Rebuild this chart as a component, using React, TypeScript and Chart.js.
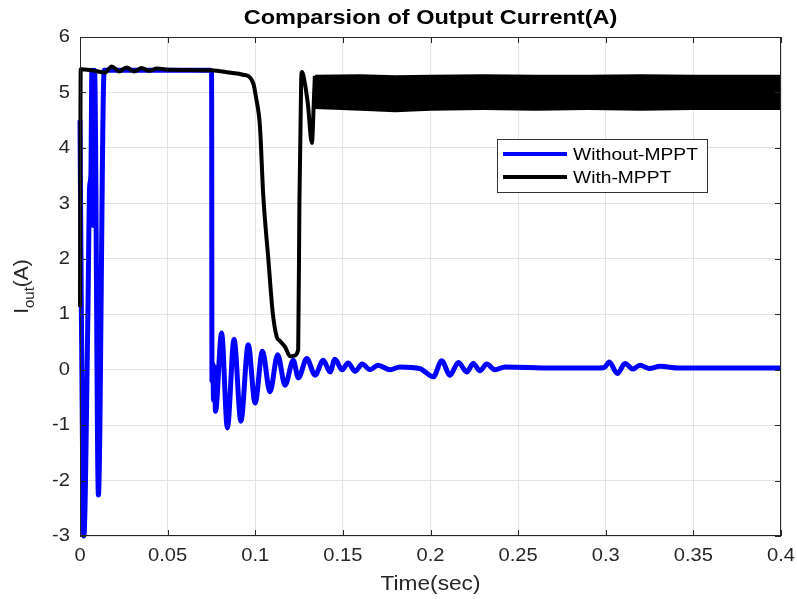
import React, { useEffect, useRef } from "react";
import { Chart, registerables } from "chart.js";

Chart.register(...registerables);

// ---- data ----
const xTicks = [0, 0.05, 0.1, 0.15, 0.2, 0.25, 0.3, 0.35, 0.4];
const yTicks = [-3, -2, -1, 0, 1, 2, 3, 4, 5, 6];

const withoutT = [
  0, 0.0008, 0.0022, 0.0045, 0.0055, 0.0062, 0.0068, 0.0076, 0.0083, 0.0105, 0.0138, 0.0145,
  0.02, 0.03, 0.05, 0.0745, 0.0751, 0.0753, 0.0758, 0.0762, 0.0768, 0.0773, 0.0808, 0.0841,
  0.0879, 0.0918, 0.096, 0.0999, 0.1041, 0.1084, 0.1128, 0.117, 0.1217, 0.1246, 0.1294, 0.1341,
  0.1388, 0.1427, 0.1455, 0.1495, 0.153, 0.157, 0.161, 0.1655, 0.17, 0.177, 0.1826, 0.194,
  0.1969, 0.2016, 0.2064, 0.2111, 0.2159, 0.2207, 0.2244, 0.2282, 0.2321, 0.2368, 0.2425, 0.27,
  0.2967, 0.2996, 0.302, 0.3066, 0.311, 0.3155, 0.3195, 0.325, 0.331, 0.342, 0.37, 0.4,
];
const withoutI = [
  4.5, 1.0, -3.0, 1.0, 3.3, 3.5, 5.4, 2.6, 5.4, -2.26, 5.4, 5.4,
  5.4, 5.4, 5.4, 5.4, 5.38, -0.2, 0.1, -0.55, 0.05, -0.75, 0.66, -1.05,
  0.55, -0.93, 0.45, -0.6, 0.33, -0.4, 0.27, -0.28, 0.17, -0.15, 0.2, -0.1,
  0.17, -0.04, 0.19, 0.0, 0.12, -0.03, 0.1, 0.0, 0.08, 0.0, 0.05, 0.02,
  -0.04, -0.13, 0.16, -0.1, 0.13, -0.04, 0.11, -0.02, 0.1, 0.0, 0.05, 0.03,
  0.03, 0.05, 0.14, -0.07, 0.11, 0.01, 0.08, 0.02, 0.06, 0.03, 0.03, 0.03,
];

const withT = [
  0, 0.0004, 0.0067, 0.0143, 0.0181, 0.0224, 0.0266, 0.0308, 0.0352, 0.0395, 0.0438, 0.0514,
  0.075, 0.085, 0.093, 0.097, 0.099, 0.1005, 0.1027, 0.1045, 0.1075, 0.11, 0.1123, 0.114,
  0.117, 0.12, 0.122, 0.1245, 0.1252, 0.1262, 0.1267, 0.1275, 0.13, 0.1323, 0.1335, 0.134,
];
const withI = [
  1.13, 5.42, 5.4, 5.36, 5.47, 5.38, 5.45, 5.38, 5.44, 5.39, 5.43, 5.41,
  5.4, 5.36, 5.32, 5.27, 5.15, 4.9, 4.38, 3.18, 1.98, 1.02, 0.59, 0.52,
  0.41, 0.24, 0.25, 0.36, 3.0, 5.2, 5.37, 5.3, 4.8, 4.09, 4.9, 5.3,
];

// envelope of the fast ripple of With-MPPT after t = 0.134 s
const bandT = [0.134, 0.16, 0.18, 0.2, 0.23, 0.26, 0.29, 0.32, 0.35, 0.38, 0.4];
const bandUpper = [5.3, 5.31, 5.29, 5.3, 5.31, 5.3, 5.3, 5.31, 5.3, 5.3, 5.3];
const bandLower = [4.72, 4.69, 4.66, 4.69, 4.7, 4.69, 4.7, 4.69, 4.7, 4.7, 4.7];

const seriesNames = ["Without-MPPT", "With-MPPT"];
const seriesColors = ["#0000ff", "#000000"];

const toPts = (t: number[], v: number[]) => t.map((x, i) => ({ x, y: v[i] }));

const SANS = '"Liberation Sans", Arial, sans-serif';
const fmtX = (v: number) => String(Number(v.toFixed(2)));

function drawScaled(
  ctx: CanvasRenderingContext2D,
  text: string,
  x: number,
  y: number,
  font: string,
  sx: number,
  align: CanvasTextAlign
) {
  ctx.save();
  ctx.translate(x, y);
  ctx.scale(sx, 1);
  ctx.font = font;
  ctx.textAlign = align;
  ctx.textBaseline = "middle";
  ctx.fillText(text, 0, 0);
  ctx.restore();
}

const decorPlugin = {
  id: "decor",
  afterDraw(chart: any) {
    const { ctx, chartArea: a, scales } = chart;
    const xs = scales.x;
    const ys = scales.y;
    ctx.save();
    // box
    ctx.strokeStyle = "#262626";
    ctx.lineWidth = 1;
    ctx.strokeRect(a.left + 0.5, a.top + 0.5, a.right - a.left - 1, a.bottom - a.top - 1);
    // inside ticks
    const tl = 6;
    ctx.beginPath();
    xTicks.forEach((v) => {
      const px = Math.round(xs.getPixelForValue(v)) + 0.5;
      ctx.moveTo(px, a.bottom);
      ctx.lineTo(px, a.bottom - tl);
      ctx.moveTo(px, a.top);
      ctx.lineTo(px, a.top + tl);
    });
    yTicks.forEach((v) => {
      const py = Math.round(ys.getPixelForValue(v)) + 0.5;
      ctx.moveTo(a.left, py);
      ctx.lineTo(a.left + tl, py);
      ctx.moveTo(a.right, py);
      ctx.lineTo(a.right - tl, py);
    });
    ctx.stroke();

    // tick labels
    ctx.fillStyle = "#262626";
    const tickFont = `19px ${SANS}`;
    xTicks.forEach((v) => {
      drawScaled(ctx, fmtX(v), xs.getPixelForValue(v), 556, tickFont, 1.06, "center");
    });
    yTicks.forEach((v) => {
      drawScaled(ctx, String(v), 70, ys.getPixelForValue(v), tickFont, 1.06, "right");
    });

    // title
    const cx = (a.left + a.right) / 2;
    ctx.fillStyle = "#000";
    drawScaled(ctx, "Comparsion of Output Current(A)", cx, 18, `bold 21px ${SANS}`, 1.12, "center");

    // x title
    ctx.fillStyle = "#262626";
    drawScaled(ctx, "Time(sec)", cx, 584, `21px ${SANS}`, 1.08, "center");

    // y title with subscript
    const cy = (a.top + a.bottom) / 2;
    ctx.save();
    ctx.translate(28, cy);
    ctx.rotate(-Math.PI / 2);
    ctx.textAlign = "left";
    ctx.textBaseline = "alphabetic";
    const big = `21px ${SANS}`;
    const small = `15px ${SANS}`;
    ctx.font = big;
    const wI = ctx.measureText("I").width;
    const wA = ctx.measureText("(A)").width;
    ctx.font = small;
    const wS = ctx.measureText("out").width;
    let x0 = -(wI + wS + wA) / 2;
    const base = 0;
    ctx.font = big;
    ctx.fillText("I", x0, base);
    x0 += wI;
    ctx.font = small;
    ctx.fillText("out", x0, base + 6);
    x0 += wS;
    ctx.font = big;
    ctx.fillText("(A)", x0, base);
    ctx.restore();

    // legend
    const lx = 497, ly = 139, lw = 210, lh = 53;
    ctx.fillStyle = "#fff";
    ctx.fillRect(lx, ly, lw, lh);
    ctx.strokeStyle = "#333";
    ctx.lineWidth = 1;
    ctx.strokeRect(lx + 0.5, ly + 0.5, lw, lh);
    const rows = [154, 177];
    seriesNames.forEach((name, i) => {
      ctx.strokeStyle = seriesColors[i];
      ctx.lineWidth = 4;
      ctx.beginPath();
      ctx.moveTo(503, rows[i]);
      ctx.lineTo(567, rows[i]);
      ctx.stroke();
      ctx.fillStyle = "#000";
      drawScaled(ctx, name, 573, rows[i] + 1, `17px ${SANS}`, 1.13, "left");
    });
    ctx.restore();
  },
};

export default function App() {
  const ref = useRef<HTMLCanvasElement | null>(null);
  useEffect(() => {
    document.body.style.margin = "0";
    const canvas = ref.current;
    if (!canvas) return;
    const chart = new Chart(canvas, {
      type: "line",
      data: {
        datasets: [
          {
            label: seriesNames[1],
            data: toPts(withT, withI),
            borderColor: seriesColors[1],
            borderWidth: 4,
            pointRadius: 0,
            cubicInterpolationMode: "monotone",
            clip: 4,
            order: 0,
          },
          {
            label: "band-upper",
            data: toPts(bandT, bandUpper),
            borderColor: "#000",
            borderWidth: 2,
            pointRadius: 0,
            fill: false,
            order: 0,
          },
          {
            label: "band-lower",
            data: toPts(bandT, bandLower),
            borderColor: "#000",
            backgroundColor: "#000",
            borderWidth: 2,
            pointRadius: 0,
            fill: "-1",
            order: 0,
          },
          {
            label: seriesNames[0],
            data: toPts(withoutT, withoutI),
            borderColor: seriesColors[0],
            borderWidth: 5,
            pointRadius: 0,
            cubicInterpolationMode: "monotone",
            clip: 4,
            order: 1,
          },
        ],
      },
      options: {
        animation: false,
        responsive: false,
        layout: { padding: { top: 37, right: 16, left: 0, bottom: 0 } },
        plugins: {
          legend: { display: false },
          tooltip: { enabled: false },
          title: { display: false },
        },
        scales: {
          x: {
            type: "linear",
            min: 0,
            max: 0.4,
            afterFit: (s: any) => {
              s.height = 63;
            },
            afterBuildTicks: (s: any) => {
              s.ticks = xTicks.map((v) => ({ value: v }));
            },
            ticks: { display: false, autoSkip: false },
            grid: { color: "#e3e3e3", drawTicks: false, lineWidth: 1 },
            border: { display: false },
          },
          y: {
            type: "linear",
            min: -3,
            max: 6,
            afterFit: (s: any) => {
              s.width = 80;
            },
            afterBuildTicks: (s: any) => {
              s.ticks = yTicks.map((v) => ({ value: v }));
            },
            ticks: { display: false, autoSkip: false },
            grid: { color: "#e3e3e3", drawTicks: false, lineWidth: 1 },
            border: { display: false },
          },
        },
      },
      plugins: [decorPlugin],
    } as any);
    return () => chart.destroy();
  }, []);
  return (
    <div style={{ width: 797, height: 599, background: "#fff" }}>
      <canvas ref={ref} width={797} height={599} style={{ display: "block" }} />
    </div>
  );
}
